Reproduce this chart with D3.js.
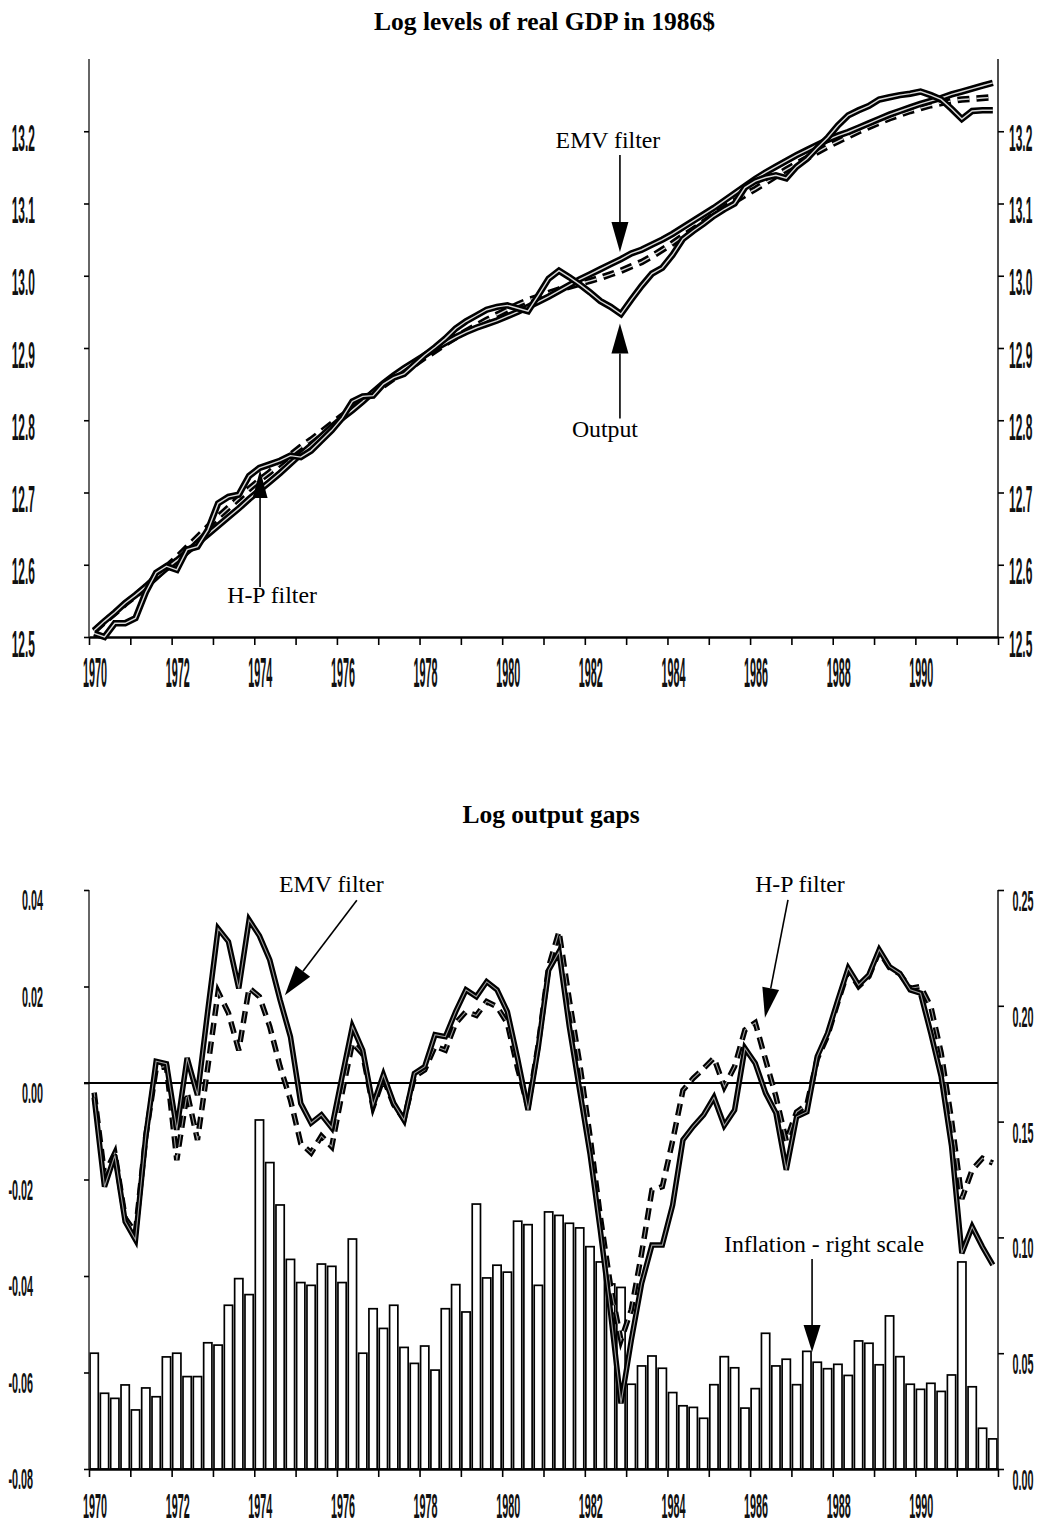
<!DOCTYPE html>
<html>
<head>
<meta charset="utf-8">
<script src="https://cdnjs.cloudflare.com/ajax/libs/d3/7.8.5/d3.min.js"></script>
<style>
  body { margin: 0; background: #fff; }
  svg { display: block; }
  .tick-label { font-family: 'Liberation Sans', Arial, sans-serif; font-size: 20px; font-weight: bold; fill: #111; }
  .title { font-family: 'Liberation Serif', 'Times New Roman', serif; font-weight: bold; font-size: 25.5px; }
  .note { font-family: 'Liberation Serif', 'Times New Roman', serif; font-size: 23.8px; }
</style>
</head>
<body>
<div id="chart"></div>
<script>
// quarterly data, 1970Q1 .. 1991Q4
var years = [1970, 1971, 1972, 1973, 1974, 1975, 1976, 1977, 1978, 1979, 1980,
             1981, 1982, 1983, 1984, 1985, 1986, 1987, 1988, 1989, 1990, 1991];
var quarterNames = ['Q1', 'Q2', 'Q3', 'Q4'];

var yearTicks = [1970, 1971, 1972, 1973, 1974, 1975, 1976, 1977, 1978, 1979, 1980, 1981,
                 1982, 1983, 1984, 1985, 1986, 1987, 1988, 1989, 1990, 1991, 1992];
var yearLabels = [1970, 1972, 1974, 1976, 1978, 1980, 1982, 1984, 1986, 1988, 1990];
var levelTicks = [12.5, 12.6, 12.7, 12.8, 12.9, 13.0, 13.1, 13.2];
var gapTicks = [-0.08, -0.06, -0.04, -0.02, 0, 0.02, 0.04];
var inflationTicks = [0, 0.05, 0.10, 0.15, 0.20, 0.25];

// log real GDP
var output = [12.505, 12.500, 12.519, 12.519, 12.526, 12.562, 12.589, 12.598, 12.593, 12.621,
              12.625, 12.648, 12.685, 12.694, 12.697, 12.723, 12.734, 12.739, 12.744, 12.751,
              12.749, 12.758, 12.772, 12.786, 12.803, 12.826, 12.833, 12.834, 12.850, 12.859,
              12.864, 12.877, 12.890, 12.901, 12.913, 12.927, 12.937, 12.945, 12.953, 12.957,
              12.959, 12.955, 12.951, 12.973, 12.996, 13.007, 12.998, 12.988, 12.977, 12.965,
              12.957, 12.947, 12.967, 12.986, 13.003, 13.011, 13.029, 13.051, 13.062, 13.072,
              13.083, 13.092, 13.100, 13.122, 13.131, 13.136, 13.139, 13.135, 13.151, 13.162,
              13.177, 13.191, 13.208, 13.222, 13.229, 13.235, 13.244, 13.247, 13.250, 13.252,
              13.255, 13.250, 13.244, 13.231, 13.217, 13.228, 13.229, 13.229];

var emvTrend = [12.509, 12.522, 12.534, 12.547, 12.558, 12.570, 12.583, 12.595, 12.606, 12.618,
                12.630, 12.642, 12.654, 12.666, 12.678, 12.691, 12.703, 12.715, 12.727, 12.740,
                12.753, 12.765, 12.778, 12.791, 12.803, 12.814, 12.826, 12.839, 12.851, 12.862,
                12.872, 12.881, 12.890, 12.899, 12.907, 12.915, 12.922, 12.928, 12.933, 12.938,
                12.944, 12.950, 12.957, 12.964, 12.971, 12.979, 12.987, 12.995, 13.002, 13.009,
                13.016, 13.023, 13.031, 13.036, 13.043, 13.050, 13.058, 13.067, 13.076, 13.085,
                13.094, 13.104, 13.114, 13.124, 13.134, 13.143, 13.151, 13.159, 13.167, 13.174,
                13.181, 13.188, 13.194, 13.199, 13.205, 13.211, 13.217, 13.223, 13.228, 13.233,
                13.238, 13.242, 13.246, 13.251, 13.255, 13.259, 13.263, 13.267];

var hpTrend = [12.508, 12.521, 12.533, 12.546, 12.557, 12.570, 12.583, 12.597, 12.610, 12.624,
               12.638, 12.652, 12.666, 12.679, 12.692, 12.705, 12.717, 12.728, 12.740, 12.752,
               12.763, 12.773, 12.784, 12.795, 12.806, 12.816, 12.827, 12.838, 12.848, 12.858,
               12.868, 12.877, 12.887, 12.896, 12.906, 12.915, 12.923, 12.931, 12.939, 12.946,
               12.953, 12.960, 12.966, 12.971, 12.976, 12.981, 12.985, 12.989, 12.993, 12.997,
               13.002, 13.007, 13.013, 13.019, 13.027, 13.036, 13.045, 13.055, 13.064, 13.074,
               13.084, 13.094, 13.103, 13.112, 13.120, 13.129, 13.138, 13.147, 13.155, 13.163,
               13.171, 13.179, 13.186, 13.193, 13.200, 13.206, 13.212, 13.218, 13.223, 13.228,
               13.232, 13.236, 13.239, 13.242, 13.244, 13.245, 13.246, 13.247];

// log output gaps
var emvGap = [-0.003, -0.0215, -0.015, -0.0287, -0.0325, -0.011, 0.0045, 0.004, -0.0097, 0.0052,
              -0.0025, 0.015, 0.032, 0.0293, 0.0196, 0.0338, 0.0305, 0.0255, 0.0172, 0.0096,
              -0.0042, -0.0083, -0.0066, -0.0093, 0.0013, 0.0117, 0.0068, -0.0046, 0.0017, -0.0042,
              -0.0077, 0.002, 0.0034, 0.010, 0.0096, 0.0148, 0.0193, 0.0179, 0.021, 0.0193,
              0.0148, 0.005, -0.0056, 0.0075, 0.0234, 0.0272, 0.0117, -0.0015, -0.0146, -0.0305,
              -0.0477, -0.0664, -0.0533, -0.0415, -0.0336, -0.0336, -0.0253, -0.0118, -0.009, -0.0066,
              -0.003, -0.0088, -0.0056, 0.0072, 0.0041, -0.0021, -0.0062, -0.018, -0.007, -0.006,
              0.0055, 0.0103, 0.0172, 0.0238, 0.0203, 0.0224, 0.0276, 0.0241, 0.0227, 0.0193,
              0.0186, 0.0103, 0.0013, -0.013, -0.0353, -0.0298, -0.034, -0.0377];

var hpGap = [-0.002, -0.019, -0.0145, -0.028, -0.031, -0.011, 0.003, 0.0035, -0.016, -0.002,
             -0.0118, 0.0033, 0.0189, 0.0145, 0.0068, 0.0197, 0.0179, 0.0117, 0.0034, -0.0035,
             -0.0125, -0.0145, -0.011, -0.0132, -0.0021, 0.0083, 0.006, -0.005, 0.001, -0.0045,
             -0.0075, 0.0013, 0.0027, 0.0076, 0.0068, 0.0124, 0.0148, 0.014, 0.0169, 0.0158,
             0.0124, 0.003, -0.005, 0.008, 0.0241, 0.0314, 0.0172, 0.0041, -0.011, -0.0277,
             -0.0422, -0.0533, -0.047, -0.0353, -0.0222, -0.0215, -0.012, -0.0015, 0.001, 0.003,
             0.0052, -0.0008, 0.0034, 0.011, 0.0125, 0.0048, -0.0028, -0.012, -0.006, -0.0045,
             0.005, 0.0098, 0.0168, 0.0234, 0.02, 0.0221, 0.0273, 0.0239, 0.0226, 0.0196,
             0.020, 0.0158, 0.0062, -0.0077, -0.024, -0.018, -0.0156, -0.0166];

// inflation, right scale
var inflation = [0.050, 0.0327, 0.0305, 0.0363, 0.0255, 0.035, 0.0312, 0.0484, 0.050, 0.0399,
                 0.0399, 0.0545, 0.0535, 0.0707, 0.0822, 0.0753, 0.1507, 0.1323, 0.114, 0.0905,
                 0.0805, 0.0793, 0.0885, 0.0875, 0.0805, 0.0993, 0.050, 0.0692, 0.0607, 0.0707,
                 0.0525, 0.0456, 0.0531, 0.0427, 0.0692, 0.0796, 0.0678, 0.1144, 0.0825, 0.088,
                 0.085, 0.107, 0.1055, 0.0793, 0.111, 0.1095, 0.1061, 0.1041, 0.096, 0.0894,
                 0.0799, 0.0784, 0.0366, 0.0445, 0.0488, 0.0435, 0.033, 0.0273, 0.0266, 0.0219,
                 0.0364, 0.0485, 0.0437, 0.0263, 0.0347, 0.0586, 0.0445, 0.0474, 0.0364, 0.0508,
                 0.0461, 0.0433, 0.0452, 0.0404, 0.0553, 0.0543, 0.045, 0.0661, 0.0485, 0.0366,
                 0.0344, 0.037, 0.0335, 0.0406, 0.0894, 0.0355, 0.0176, 0.013];

var quarters = [];
years.forEach(function (yr) {
    quarterNames.forEach(function (q) {
        quarters.push(yr + q);
    });
});

var svgWidth = 1040,
    svgHeight = 1524,
    plotLeft = 89,
    plotRight = 998,
    topPanel = { top: 59, bottom: 637 },
    lowPanel = { top: 890, bottom: 1469 };

var svg = d3.select('#chart').append('svg')
    .attr('width', svgWidth)
    .attr('height', svgHeight);

var x = d3.scaleLinear().domain([1970, 1992]).range([plotLeft, plotRight]);
var xBand = d3.scaleBand().domain(quarters).range([plotLeft, plotRight])
    .paddingInner(0.2).paddingOuter(0.1);
function xMid(i) {
    return xBand(quarters[i]) + xBand.bandwidth() / 2;
}

var yLevel = d3.scaleLinear().domain([12.5, 13.3]).range([topPanel.bottom, topPanel.top]);
var yGap = d3.scaleLinear().domain([-0.08, 0.04]).range([lowPanel.bottom, lowPanel.top]);
var yInfl = d3.scaleLinear().domain([0, 0.25]).range([lowPanel.bottom, lowPanel.top]);

function seriesLine(y) {
    return d3.line()
        .x(function (d, i) { return xMid(i); })
        .y(function (d) { return y(d); });
}

// ---------- top panel ----------
svg.append('text').attr('class', 'title')
    .attr('x', 544.5).attr('y', 30)
    .attr('text-anchor', 'middle')
    .text('Log levels of real GDP in 1986$');

var topG = svg.append('g');
addYAxis(topG, yLevel, levelTicks, topPanel);
addXAxis(topG, topPanel.bottom, 50, 2.1);

yLabels(topG, levelTicks, yLevel, function (d) { return d.toFixed(1); },
    function () { return 35; }, 'end', 19.5, 0.6, 1.89);
yLabels(topG, levelTicks, yLevel, function (d) { return d.toFixed(1); },
    function () { return 1009; }, 'start', 19.5, 0.6, 1.89);

doubleLine(topG, hpTrend, seriesLine(yLevel), 6.5, 1.4, '#d8d8d8', '12,7');
doubleLine(topG, emvTrend, seriesLine(yLevel), 6.5, 1.4, '#d8d8d8', null);
doubleLine(topG, output, seriesLine(yLevel), 6.5, 1.4, '#d8d8d8', null);

note(topG, 'EMV filter', [x(1982.85), yLevel(13.033)], [0, -97], [-12, -104], 30, 8.5);
note(topG, 'Output', [x(1982.85), yLevel(12.934)], [0, 95], [-15, 114], 30, 8.5);
note(topG, 'H-P filter', [x(1974.14), yLevel(12.731)], [0, 117], [12, 133], 28, 7.5);

// ---------- lower panel ----------
svg.append('text').attr('class', 'title')
    .attr('x', 551).attr('y', 823)
    .attr('text-anchor', 'middle')
    .text('Log output gaps');

var lowG = svg.append('g');

lowG.selectAll('rect.bar')
    .data(inflation)
    .enter().append('rect')
    .attr('class', 'bar')
    .attr('x', function (d, i) { return xBand(quarters[i]); })
    .attr('width', xBand.bandwidth())
    .attr('y', function (d) { return yInfl(d); })
    .attr('height', function (d) { return yInfl(0) - yInfl(d); })
    .attr('fill', '#fff')
    .attr('stroke', '#000')
    .attr('stroke-width', 1.7);

addYAxis(lowG, yGap, gapTicks, lowPanel, yInfl, inflationTicks);
addXAxis(lowG, lowPanel.bottom, 49, 1.75);

yLabels(lowG, gapTicks, yGap, function (d) { return d.toFixed(2); },
    function (d) { return d < 0 ? 33 : 43; }, 'end', 20, 0.54, 1.5);
yLabels(lowG, inflationTicks, yInfl, function (d) { return d.toFixed(2); },
    function () { return 1012.5; }, 'start', 21, 0.54, 1.45);

lowG.append('line')
    .attr('x1', plotLeft - 5).attr('x2', plotRight)
    .attr('y1', yGap(0)).attr('y2', yGap(0))
    .attr('stroke', '#000').attr('stroke-width', 2);

doubleLine(lowG, hpGap, seriesLine(yGap), 5.5, 1.1, '#999', '12,7');
doubleLine(lowG, emvGap, seriesLine(yGap), 5.5, 1.1, '#999', null);

note(lowG, 'EMV filter', [x(1974.74), yGap(0.0182)], [72, -95], [46.5, -103], 30, 9);
note(lowG, 'H-P filter', [x(1986.36), yGap(0.0135)], [23, -118], [35, -126], 30, 8.5);
note(lowG, 'Inflation - right scale', [x(1987.5), yInfl(0.0505)], [0, -93], [12, -100], 27, 8.5);

// ---------- helpers ----------
function addXAxis(g, yPos, labelOffset, sy) {
    var axis = d3.axisBottom(x).tickValues(yearTicks).tickSize(8).tickSizeOuter(0).tickFormat('');
    var ax = g.append('g')
        .attr('transform', 'translate(0,' + yPos + ')')
        .call(axis);
    ax.select('.domain').attr('stroke-width', 2.5);
    ax.selectAll('.tick line').attr('stroke-width', 1.6);

    g.selectAll(null)
        .data(yearLabels)
        .enter().append('text')
        .attr('class', 'tick-label')
        .attr('text-anchor', 'middle')
        .attr('transform', function (d) {
            return 'translate(' + (x(d) + 6) + ',' + (yPos + labelOffset) + ') scale(0.54,' + sy + ')';
        })
        .text(function (d) { return d; });
}

function addYAxis(g, yl, ticksL, panel, yr, ticksR) {
    var axL = g.append('g')
        .attr('transform', 'translate(' + plotLeft + ',0)')
        .call(d3.axisLeft(yl).tickValues(ticksL).tickSize(5).tickSizeOuter(0).tickFormat(''));
    axL.select('.domain').attr('stroke', '#333').attr('stroke-width', 1.5)
        .attr('d', 'M0,' + panel.top + 'V' + panel.bottom);
    axL.selectAll('.tick line').attr('stroke-width', 1.6);

    var axR = g.append('g')
        .attr('transform', 'translate(' + plotRight + ',0)')
        .call(d3.axisRight(yr || yl).tickValues(ticksR || ticksL).tickSize(6).tickSizeOuter(0).tickFormat(''));
    axR.select('.domain').attr('stroke', '#222').attr('stroke-width', 1.6)
        .attr('d', 'M0,' + panel.top + 'V' + panel.bottom);
    axR.selectAll('.tick line').attr('stroke-width', 1.6);
}

function yLabels(g, values, scale, fmt, xEdge, anchor, dy, sx, sy) {
    g.selectAll(null)
        .data(values)
        .enter().append('text')
        .attr('class', 'tick-label')
        .attr('text-anchor', anchor)
        .attr('transform', function (d) {
            return 'translate(' + xEdge(d) + ',' + (scale(d) + dy) + ') scale(' + sx + ',' + sy + ')';
        })
        .text(fmt);
}

// black band with a thin light core, like the original's double-ruled lines
function doubleLine(g, data, line, outer, inner, core, dash) {
    g.append('path')
        .datum(data)
        .attr('d', line)
        .attr('fill', 'none')
        .attr('stroke', '#000')
        .attr('stroke-width', outer)
        .attr('stroke-dasharray', dash);
    g.append('path')
        .datum(data)
        .attr('d', line)
        .attr('fill', 'none')
        .attr('stroke', core)
        .attr('stroke-width', inner)
        .attr('stroke-dasharray', dash);
}

// arrow with its label; offsets are pixels from the arrow tip
function note(g, text, tip, from, labelAt, headLen, half) {
    var sx = tip[0] + from[0],
        sy = tip[1] + from[1],
        dx = sx - tip[0],
        dy = sy - tip[1],
        len = Math.sqrt(dx * dx + dy * dy),
        ux = dx / len,
        uy = dy / len,
        bx = tip[0] + ux * headLen,
        by = tip[1] + uy * headLen;

    g.append('line')
        .attr('x1', sx).attr('y1', sy)
        .attr('x2', bx).attr('y2', by)
        .attr('stroke', '#000')
        .attr('stroke-width', 1.6);
    g.append('path')
        .attr('d', 'M' + tip[0] + ',' + tip[1] +
            'L' + (bx - uy * half) + ',' + (by + ux * half) +
            'L' + (bx + uy * half) + ',' + (by - ux * half) + 'Z')
        .attr('fill', '#000');
    g.append('text')
        .attr('class', 'note')
        .attr('text-anchor', 'middle')
        .attr('x', tip[0] + labelAt[0])
        .attr('y', tip[1] + labelAt[1])
        .text(text);
}
</script>
</body>
</html>
